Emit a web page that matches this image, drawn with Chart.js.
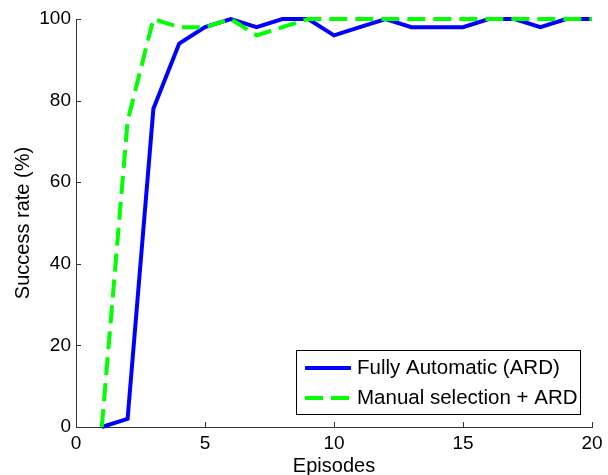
<!DOCTYPE html>
<html>
<head>
<meta charset="utf-8">
<script src="https://cdn.jsdelivr.net/npm/chart.js@4/dist/chart.umd.min.js"></script>
<style>
  html, body { margin: 0; padding: 0; background: #fff; }
  #wrap { width: 608px; height: 475px; }
</style>
</head>
<body>
<div id="wrap"><canvas id="chart" width="608" height="475"></canvas></div>
<script>
const episodes = [1, 2, 3, 4, 5, 6, 7, 8, 9, 10, 11, 12, 13, 14, 15, 16, 17, 18, 19, 20];
const fullyAuto = [0, 2, 78, 94, 98, 100, 98, 100, 100, 96, 98, 100, 98, 98, 98, 100, 100, 98, 100, 100];
const manualArd = [0, 75, 100, 98, 98, 100, 96, 98, 100, 100, 100, 100, 100, 100, 100, 100, 100, 100, 100, 100];
const xTicks = [0, 5, 10, 15, 20];
const yTicks = [0, 20, 40, 60, 80, 100];

const FONT = "'Liberation Sans', Arial, Helvetica, sans-serif";
const AXIS = "#333";

const toPoints = (ys) => episodes.map((x, i) => ({ x: x, y: ys[i] }));

// matlab style ticks pointing into the plot
const innerTicks = {
  id: "innerTicks",
  afterDraw(chart) {
    const { ctx, chartArea, scales } = chart;
    ctx.save();
    ctx.strokeStyle = AXIS;
    ctx.lineWidth = 1;
    ctx.beginPath();
    xTicks.forEach((v) => {
      const px = Math.round(scales.x.getPixelForValue(v)) + 0.5;
      ctx.moveTo(px, chartArea.bottom);
      ctx.lineTo(px, chartArea.bottom - 5);
    });
    yTicks.forEach((v) => {
      const py = Math.round(scales.y.getPixelForValue(v)) + 0.5;
      ctx.moveTo(chartArea.left, py);
      ctx.lineTo(chartArea.left + 5, py);
    });
    ctx.stroke();
    ctx.restore();
  },
};

// boxed legend sitting inside the plot, bottom right
const boxLegend = {
  id: "boxLegend",
  afterDraw(chart, args, opts) {
    const { ctx } = chart;
    const { x, y, w, h } = opts;
    ctx.save();
    ctx.fillStyle = "#fff";
    ctx.fillRect(x, y, w, h);
    ctx.strokeStyle = "#000";
    ctx.lineWidth = 1;
    ctx.strokeRect(x + 0.5, y + 0.5, w, h);
    ctx.font = `${opts.fontSize}px ${FONT}`;
    ctx.textBaseline = "middle";
    ctx.textAlign = "left";
    chart.data.datasets.forEach((ds, i) => {
      const ly = y + 18 + i * 30;
      ctx.beginPath();
      ctx.strokeStyle = ds.borderColor;
      ctx.lineWidth = ds.borderWidth;
      ctx.setLineDash(ds.borderDash || []);
      ctx.moveTo(x + 9, ly);
      ctx.lineTo(x + 55, ly);
      ctx.stroke();
      ctx.setLineDash([]);
      ctx.fillStyle = "#000";
      ctx.fillText(ds.label, x + 61, ly);
    });
    ctx.restore();
  },
};

new Chart(document.getElementById("chart"), {
  type: "line",
  data: {
    datasets: [
      {
        label: "Fully Automatic (ARD)",
        data: toPoints(fullyAuto),
        borderColor: "#0000ff",
        borderWidth: 4,
        pointRadius: 0,
        tension: 0,
        clip: 8,
        order: 1,
      },
      {
        label: "Manual selection + ARD",
        data: toPoints(manualArd),
        borderColor: "#00ff00",
        borderWidth: 4,
        borderDash: [18, 8],
        pointRadius: 0,
        tension: 0,
        clip: 8,
        order: 0,
      },
    ],
  },
  options: {
    responsive: false,
    animation: false,
    devicePixelRatio: 1,
    layout: { padding: { top: 19, right: 16, left: 0, bottom: 0 } },
    plugins: {
      legend: { display: false },
      tooltip: { enabled: false },
      boxLegend: { x: 296, y: 350, w: 284, h: 64, fontSize: 20.5 },
    },
    scales: {
      x: {
        type: "linear",
        min: 0,
        max: 20,
        afterBuildTicks: (s) => { s.ticks = xTicks.map((v) => ({ value: v })); },
        afterFit: (s) => { s.height = 48; },
        ticks: { color: "#000", padding: 5, maxRotation: 0, font: { family: FONT, size: 19 } },
        grid: { display: false, drawTicks: false },
        border: { display: true, color: AXIS, width: 1 },
        title: {
          display: true,
          text: "Episodes",
          color: "#000",
          font: { family: FONT, size: 20 },
          padding: { top: 0, bottom: -3 },
        },
      },
      y: {
        min: 0,
        max: 100,
        afterBuildTicks: (s) => { s.ticks = yTicks.map((v) => ({ value: v })); },
        afterFit: (s) => { s.width = 76; },
        ticks: { color: "#000", padding: 5, font: { family: FONT, size: 19 } },
        grid: { display: false, drawTicks: false },
        border: { display: true, color: AXIS, width: 1 },
        title: {
          display: true,
          text: "Success rate (%)",
          color: "#000",
          font: { family: FONT, size: 20 },
          padding: { top: 11, bottom: 0 },
        },
      },
    },
  },
  plugins: [innerTicks, boxLegend],
});
</script>
</body>
</html>
